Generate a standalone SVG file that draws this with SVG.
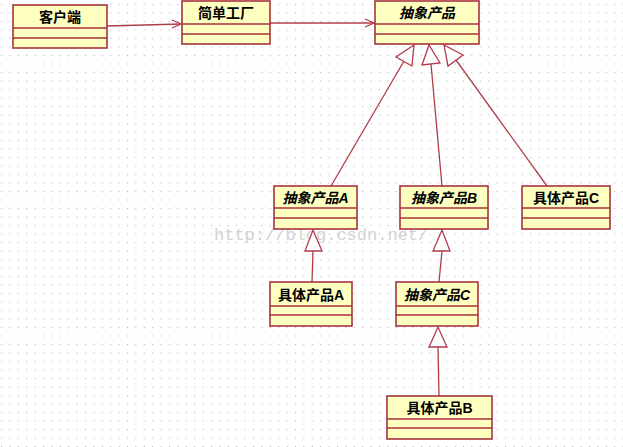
<svg xmlns="http://www.w3.org/2000/svg" width="623" height="447" viewBox="0 0 623 447">
<defs>
<pattern id="grid" x="1" y="4" width="8.4" height="8.5" patternUnits="userSpaceOnUse">
<rect x="0" y="0" width="1" height="1" fill="#b0b0b0"/>
</pattern>
<style>
.box{fill:#ffffc0;stroke:#a8323e;stroke-width:1.6}
.sep{stroke:#a8323e;stroke-width:1.4;fill:none}
.t{font-family:"Liberation Sans","Noto Sans CJK SC",sans-serif;font-size:14px;font-weight:bold;fill:#000;text-anchor:middle}
.i{font-style:italic}
.ln{stroke:#b03c48;stroke-width:1.3;fill:none}
.tri{stroke:#b03c48;stroke-width:1.3;fill:#fff}
.wm{font-family:"Liberation Mono",monospace;font-size:17px;fill:#c8c8c8;opacity:0.8}
</style>
</defs>
<rect width="623" height="447" fill="#fff"/>
<rect width="623" height="447" fill="url(#grid)"/>
<text class="wm" x="214" y="240">http://blog.csdn.net/</text>
<g id="connectors">
<path class="ln" d="M107,26 L181,24"/>
<path class="ln" d="M172,20 L181,24 L172,28"/>
<path class="ln" d="M270,23 L374,23"/>
<path class="ln" d="M365,19 L374,23 L365,27"/>
<path class="ln" d="M404,61 L331,186"/>
<polygon class="tri" points="414,45 396,57 412,66"/>
<path class="ln" d="M431,64 L442,186"/>
<polygon class="tri" points="429,45 422,65 440,63"/>
<path class="ln" d="M456,60 L547,186"/>
<polygon class="tri" points="444,45 448,66 463,55"/>
<path class="ln" d="M313,251 L312,282"/>
<polygon class="tri" points="313,230 305,251 322,251"/>
<path class="ln" d="M442,251 L439,282"/>
<polygon class="tri" points="442,230 433,251 450,251"/>
<path class="ln" d="M438,347 L439,396"/>
<polygon class="tri" points="438,327 429,347 447,347"/>
</g>
<g id="client">
<rect class="box" x="13" y="5" width="94" height="43"/>
<path class="sep" d="M13,28H107M13,38H107"/>
<text class="t" x="60" y="21.5">客户端</text>
</g>
<g id="factory">
<rect class="box" x="182" y="1" width="88" height="43"/>
<path class="sep" d="M182,24H270M182,34H270"/>
<text class="t" x="226" y="17.5">简单工厂</text>
</g>
<g id="abstractProduct">
<rect class="box" x="375" y="1" width="104" height="43"/>
<path class="sep" d="M375,24H479M375,34H479"/>
<text class="t i" x="427" y="17.5">抽象产品</text>
</g>
<g id="abstractA">
<rect class="box" x="274" y="186" width="83" height="43"/>
<path class="sep" d="M274,208H357M274,218H357"/>
<text class="t i" x="315.5" y="202.5">抽象产品A</text>
</g>
<g id="abstractB">
<rect class="box" x="400" y="186" width="88" height="43"/>
<path class="sep" d="M400,208H488M400,218H488"/>
<text class="t i" x="444" y="202.5">抽象产品B</text>
</g>
<g id="concreteC">
<rect class="box" x="522" y="186" width="88" height="43"/>
<path class="sep" d="M522,208H610M522,218H610"/>
<text class="t" x="566" y="202.5">具体产品C</text>
</g>
<g id="concreteA">
<rect class="box" x="270" y="282" width="82" height="44"/>
<path class="sep" d="M270,306H352M270,315H352"/>
<text class="t" x="311" y="299.5">具体产品A</text>
</g>
<g id="abstractC">
<rect class="box" x="396" y="282" width="82" height="44"/>
<path class="sep" d="M396,306H478M396,315H478"/>
<text class="t i" x="437" y="299.5">抽象产品C</text>
</g>
<g id="concreteB">
<rect class="box" x="387" y="396" width="105" height="43"/>
<path class="sep" d="M387,419H492M387,428H492"/>
<text class="t" x="439.5" y="412.5">具体产品B</text>
</g>
</svg>
